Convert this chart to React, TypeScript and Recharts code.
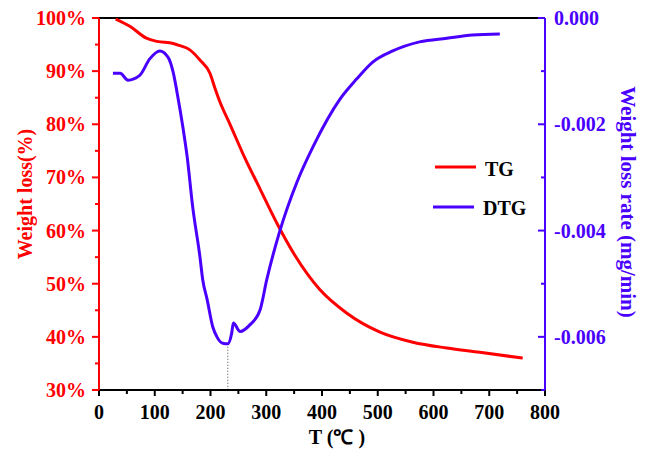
import React from "react";
import { LineChart, Line, XAxis, YAxis, ReferenceLine, Legend } from "recharts";

const RED = "#ff0000";
const BLUE = "#4a00ff";
const FONT = "'Liberation Serif', 'Times New Roman', serif";

// TG curve (weight loss %, left axis)
const tgT = [30, 56, 85, 104, 133, 145, 163, 181, 199, 208, 217, 235, 258, 289, 321, 351, 396, 444, 504, 563, 624, 683, 760];
const tgW = [99.8, 98.4, 96.2, 95.6, 95.2, 94.8, 94.0, 92.1, 89.6, 86.8, 84.2, 80.0, 74.5, 67.8, 61.0, 55.4, 48.9, 44.5, 40.9, 39.0, 37.9, 37.1, 36.0];

// DTG curve (mg/min, right axis)
const dtgT = [25, 38, 52, 73, 91, 109, 124, 133, 140, 151, 158, 168, 181, 186, 194, 204, 212, 222, 231, 238, 241, 253, 271, 289, 301, 324, 355, 384, 432, 462, 491, 527, 575, 624, 670, 719];
const dtgV = [-0.00104, -0.00104, -0.00117, -0.00108, -0.00077, -0.00062, -0.00074, -0.00102, -0.0014, -0.00209, -0.0026, -0.00355, -0.00449, -0.00492, -0.0053, -0.00581, -0.00601, -0.00612, -0.00613, -0.00593, -0.00574, -0.0059, -0.00577, -0.00549, -0.00492, -0.00402, -0.00309, -0.00242, -0.00153, -0.00115, -0.00083, -0.00062, -0.00045, -0.00038, -0.00032, -0.0003];

const xTicks = [0, 50, 100, 150, 200, 250, 300, 350, 400, 450, 500, 550, 600, 650, 700, 750, 800];
const leftTicks = [30, 35, 40, 45, 50, 55, 60, 65, 70, 75, 80, 85, 90, 95, 100];
const rightTicks = [-0.007, -0.006, -0.005, -0.004, -0.003, -0.002, -0.001, 0];

const tgData = tgT.map((T, i) => ({ T, w: tgW[i] }));
const dtgData = dtgT.map((T, i) => ({ T, v: dtgV[i] }));

// temperature of the DTG minimum, marked with a dotted line
const minIdx = dtgV.indexOf(Math.min(...dtgV));
const peakT = dtgT[minIdx];
const peakV = dtgV[minIdx];

const txt = { fontFamily: FONT, fontWeight: "bold", fontSize: 20 } as const;

const LeftTick = ({ x, y, payload }: any) => {
  const major = payload.value % 10 === 0;
  return (
    <g>
      <line x1={x - (major ? 7 : 4)} x2={x} y1={y} y2={y} stroke={RED} strokeWidth={2} />
      {major && (
        <text x={x - 13} y={y} dy="0.35em" textAnchor="end" fill={RED} style={txt}>
          {payload.value}%
        </text>
      )}
    </g>
  );
};

const RightTick = ({ x, y, payload }: any) => {
  const k = Math.round(Math.abs(payload.value) * 1000);
  const major = k % 2 === 0;
  const label = k === 0 ? "0.000" : payload.value.toFixed(3);
  return (
    <g>
      <line x1={x - (major ? 7 : 4)} x2={x} y1={y} y2={y} stroke={BLUE} strokeWidth={2} />
      {major && (
        <text x={x + 9} y={y} dy="0.35em" textAnchor="start" fill={BLUE} style={txt}>
          {label}
        </text>
      )}
    </g>
  );
};

const BottomTick = ({ x, y, payload }: any) => {
  const major = payload.value % 100 === 0;
  return (
    <g>
      <line x1={x} x2={x} y1={y} y2={y + (major ? 6 : 4)} stroke="#000" strokeWidth={2} />
      {major && (
        <text x={x} y={y + 22} dy="0.35em" textAnchor="middle" fill="#000" style={txt}>
          {payload.value}
        </text>
      )}
    </g>
  );
};

const LegendBox = () => (
  <svg width={110} height={70} style={{ overflow: "visible" }}>
    <line x1={5} x2={46} y1={17} y2={17} stroke={RED} strokeWidth={3} />
    <text x={55} y={19} dy="0.35em" style={txt} fill="#000">TG</text>
    <line x1={3} x2={44} y1={57} y2={57} stroke={BLUE} strokeWidth={3} />
    <text x={53} y={58} dy="0.35em" style={txt} fill="#000">DTG</text>
  </svg>
);

export default function App() {
  return (
    <div style={{ position: "absolute", left: 0, top: 0, background: "#fff" }}>
      <LineChart width={647} height={449} margin={{ top: 18, right: 0, bottom: 0, left: 0 }}>
        <XAxis
          dataKey="T"
          type="number"
          domain={[0, 800]}
          ticks={xTicks}
          interval={0}
          height={59}
          tickSize={0}
          tickMargin={0}
          tickLine={false}
          tick={<BottomTick />}
          axisLine={{ stroke: "#000", strokeWidth: 2 }}
          label={{
            content: ({ viewBox }: any) => (
              <text x={viewBox.x + viewBox.width / 2 + 15} y={viewBox.y + 47} dy="0.35em" textAnchor="middle" style={txt} fill="#000">
                T (℃ )
              </text>
            ),
          }}
        />
        <YAxis
          yAxisId="left"
          domain={[30, 100]}
          ticks={leftTicks}
          interval={0}
          width={99}
          tickSize={0}
          tickMargin={0}
          tickLine={false}
          tick={<LeftTick />}
          axisLine={{ stroke: RED, strokeWidth: 2 }}
          label={{
            content: ({ viewBox }: any) => {
              const cx = viewBox.x + 25;
              const cy = viewBox.y + viewBox.height / 2 - 10;
              return (
                <text x={cx} y={cy} dy="0.35em" textAnchor="middle" transform={`rotate(-90 ${cx} ${cy})`} style={txt} fill={RED}>
                  Weight loss(%)
                </text>
              );
            },
          }}
        />
        <YAxis
          yAxisId="right"
          orientation="right"
          domain={[-0.007, 0]}
          ticks={rightTicks}
          interval={0}
          width={102}
          tickSize={0}
          tickMargin={0}
          tickLine={false}
          tick={<RightTick />}
          axisLine={{ stroke: BLUE, strokeWidth: 2 }}
          label={{
            content: ({ viewBox }: any) => {
              const cx = viewBox.x + 83;
              const cy = viewBox.y + viewBox.height / 2 - 2;
              return (
                <text x={cx} y={cy} dy="0.35em" textAnchor="middle" transform={`rotate(90 ${cx} ${cy})`} style={{ ...txt, fontSize: 21 }} fill={BLUE}>
                  Weight loss rate (mg/min)
                </text>
              );
            },
          }}
        />
        <ReferenceLine yAxisId="left" y={100} stroke="#000" strokeWidth={2} />
        <ReferenceLine
          yAxisId="right"
          segment={[{ x: peakT, y: peakV }, { x: peakT, y: -0.007 }]}
          stroke="#444"
          strokeWidth={1}
          strokeDasharray="1 2"
        />
        <Line data={tgData} dataKey="w" yAxisId="left" type="monotone" stroke={RED} strokeWidth={3} dot={false} isAnimationActive={false} />
        <Line data={dtgData} dataKey="v" yAxisId="right" type="monotone" stroke={BLUE} strokeWidth={3} dot={false} isAnimationActive={false} />
        <Legend
          layout="vertical"
          align="center"
          verticalAlign="middle"
          content={() => <LegendBox />}
          wrapperStyle={{ position: "absolute", left: 430, top: 150, width: 110 }}
        />
      </LineChart>
    </div>
  );
}
